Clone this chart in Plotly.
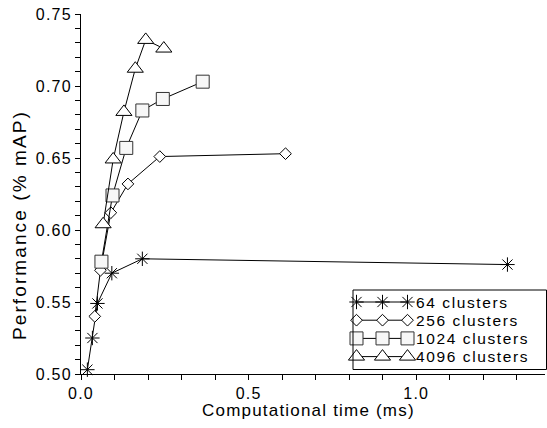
import plotly.graph_objects as go

# ---- data ----
series_names = ["64 clusters", "256 clusters", "1024 clusters", "4096 clusters"]

x64 = [0.019, 0.034, 0.049, 0.092, 0.183, 1.272]
y64 = [0.503, 0.525, 0.549, 0.570, 0.580, 0.576]

x256 = [0.041, 0.058, 0.089, 0.140, 0.235, 0.610]
y256 = [0.540, 0.572, 0.612, 0.632, 0.651, 0.653]

x1024 = [0.061, 0.094, 0.135, 0.183, 0.244, 0.363]
y1024 = [0.578, 0.624, 0.657, 0.683, 0.691, 0.703]

x4096 = [0.066, 0.096, 0.128, 0.162, 0.193, 0.247]
y4096 = [0.604, 0.649, 0.682, 0.712, 0.732, 0.726]

x_tickvals = [0.0, 0.5, 1.0]
x_ticktext = ["0.0", "0.5", "1.0"]
y_tickvals = [0.50, 0.55, 0.60, 0.65, 0.70, 0.75]
y_ticktext = ["0.50", "0.55", "0.60", "0.65", "0.70", "0.75"]

x_title = "Computational time (ms)"
y_title = "Performance (% mAP)"

FONT = "Liberation Sans, Arial, sans-serif"

# ---- layout constants (pixels) ----
W, H = 547, 428
ML, MR, MT, MB = 81, 2, 14, 54
PW, PH = W - ML - MR, H - MT - MB


def px_to_paper(px, py):
    return (px - ML) / PW, (H - MB - py) / PH


def sp(t, ls):
    return '<span style="letter-spacing:%spx">%s</span>' % (ls, t)


styles = [
    dict(symbol="asterisk-open", size=12, color="black", line=dict(color="black", width=1)),
    dict(symbol="diamond", size=9, color="white", line=dict(color="black", width=1)),
    dict(symbol="square", size=13, color="#f7f7f7", line=dict(color="#333333", width=1)),
    dict(symbol="triangle-up", size=14, color="white", line=dict(color="black", width=1)),
]

fig = go.Figure()
for name, xs, ys, mk in zip(series_names, [x64, x256, x1024, x4096],
                            [y64, y256, y1024, y4096], styles):
    fig.add_trace(go.Scatter(
        x=xs, y=ys, mode="lines+markers", name=name,
        line=dict(color="black", width=1),
        marker=mk, cliponaxis=False, showlegend=False,
    ))

# ---- custom legend (three sample markers per entry, like the original) ----
LEG_LEFT, LEG_RIGHT, LEG_TOP, LEG_BOTTOM = 353, 546.5, 290, 369.5
ROW0, ROW_STEP = 302, 18.2
SAMPLE_X = [356.5, 382.5, 407.5]
TEXT_X = 414

annotations = []
for i, (name, mk) in enumerate(zip(series_names, styles)):
    row_y = ROW0 + i * ROW_STEP
    fig.add_trace(go.Scatter(
        x=SAMPLE_X, y=[row_y] * len(SAMPLE_X), xaxis="x2", yaxis="y2",
        mode="lines+markers", line=dict(color="black", width=1),
        marker=mk, cliponaxis=False, showlegend=False, hoverinfo="skip",
    ))
    tx, ty = px_to_paper(TEXT_X, row_y)
    annotations.append(dict(
        text=sp(name, 1.6), xref="paper", yref="paper", x=tx, y=ty,
        xanchor="left", yanchor="middle", showarrow=False,
        font=dict(size=15.5),
    ))

lx0, ly0 = px_to_paper(LEG_LEFT, LEG_BOTTOM)
lx1, ly1 = px_to_paper(LEG_RIGHT, LEG_TOP)
shapes = [dict(type="rect", xref="paper", yref="paper", x0=lx0, x1=lx1, y0=ly0, y1=ly1,
               line=dict(color="black", width=1), fillcolor="rgba(0,0,0,0)", layer="above")]

# axis titles
xtx, xty = px_to_paper(308, 410.5)
annotations.append(dict(text=sp(x_title, 1.2), xref="paper", yref="paper",
                        x=xtx, y=xty, xanchor="center", yanchor="middle",
                        showarrow=False, font=dict(size=17)))
ytx, yty = px_to_paper(19, 225)
annotations.append(dict(text=sp(y_title, 2.1), xref="paper", yref="paper",
                        x=ytx, y=yty, xanchor="center", yanchor="middle",
                        textangle=-90, showarrow=False, font=dict(size=19)))

fig.update_layout(
    width=W, height=H,
    margin=dict(l=ML, r=MR, t=MT, b=MB),
    paper_bgcolor="white", plot_bgcolor="white",
    font=dict(family=FONT, size=16, color="black"),
    showlegend=False,
    xaxis=dict(
        range=[0, 1.384], showline=True, linecolor="black", linewidth=1,
        showgrid=False, zeroline=False,
        tickmode="array", tickvals=x_tickvals,
        ticktext=[sp(t, 1.2) for t in x_ticktext],
        ticks="outside", ticklen=5, tickcolor="black", tickwidth=1,
        minor=dict(dtick=0.1, tick0=0, ticks="outside", ticklen=5,
                   tickcolor="black", tickwidth=1, showgrid=False),
        tickfont=dict(size=16),
    ),
    yaxis=dict(
        range=[0.5, 0.75], showline=True, linecolor="black", linewidth=1,
        showgrid=False, zeroline=False,
        tickmode="array", tickvals=y_tickvals,
        ticktext=[sp(t, 1.2) for t in y_ticktext],
        ticks="outside", ticklen=5, tickcolor="black", tickwidth=1,
        minor=dict(dtick=0.01, tick0=0.5, ticks="outside", ticklen=5,
                   tickcolor="black", tickwidth=1, showgrid=False),
        tickfont=dict(size=16),
    ),
    # hidden pixel-unit overlay axes used only to place the legend samples
    xaxis2=dict(overlaying="x", range=[ML, W - MR], visible=False, fixedrange=True),
    yaxis2=dict(overlaying="y", range=[H - MB, MT], visible=False, fixedrange=True),
    annotations=annotations,
    shapes=shapes,
)

fig.write_html("out.html")
